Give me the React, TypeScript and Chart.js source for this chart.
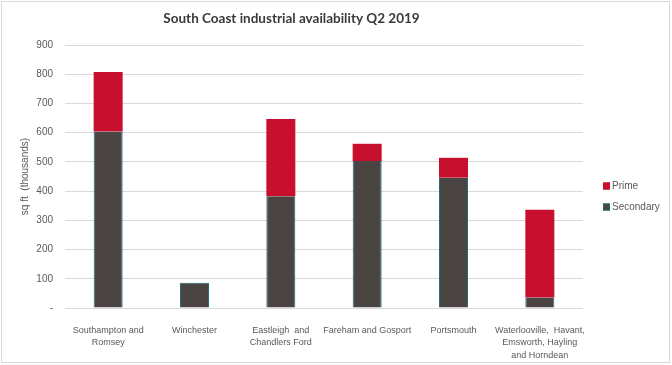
import React, { useEffect, useRef } from "react";
import { Chart, registerables } from "chart.js";

Chart.register(...registerables);

const categories: (string | string[])[] = [
  ["Southampton and", "Romsey"],
  ["Winchester"],
  ["Eastleigh  and", "Chandlers Ford"],
  ["Fareham and Gosport"],
  ["Portsmouth"],
  ["Waterlooville,  Havant,", "Emsworth, Hayling", "and Horndean"],
];
const secondaryValues = [604, 86, 382, 503, 446, 36];
const primeValues = [204, 0, 265, 59, 68, 300];
const yTicks = [0, 100, 200, 300, 400, 500, 600, 700, 800, 900];

const RED = "#C8102E";
const DARK = "#4A4542";
const TEAL = "#1F6E78";
const TEXT = "#595959";
const FONT = "'Liberation Sans', Arial, sans-serif";

const bgPlugin = {
  id: "bgBorder",
  beforeDraw(chart: any) {
    const ctx = chart.ctx;
    ctx.save();
    ctx.fillStyle = "#ffffff";
    ctx.fillRect(0, 0, chart.width, chart.height);
    ctx.restore();
  },
  afterDraw(chart: any) {
    const ctx = chart.ctx;
    ctx.save();
    ctx.strokeStyle = "#d9d9d9";
    ctx.lineWidth = 1;
    ctx.strokeRect(1.5, 1.5, chart.width - 4, chart.height - 4);
    ctx.restore();
  },
};

const legendPlugin = {
  id: "customLegend",
  afterDraw(chart: any) {
    const ctx = chart.ctx;
    const area = chart.chartArea;
    const x = area.right + 20;
    const cy = (area.top + area.bottom) / 2 + 20;
    const items = [
      { label: "Prime", fill: RED, stroke: RED, y: cy - 10.5 },
      { label: "Secondary", fill: DARK, stroke: TEAL, y: cy + 10.5 },
    ];
    ctx.save();
    ctx.font = `10px ${FONT}`;
    ctx.textBaseline = "middle";
    ctx.textAlign = "left";
    items.forEach((it) => {
      ctx.fillStyle = it.fill;
      ctx.fillRect(x, it.y - 3.5, 7, 7);
      ctx.strokeStyle = it.stroke;
      ctx.lineWidth = 1;
      ctx.strokeRect(x + 0.5, it.y - 3, 6, 6);
      ctx.fillStyle = TEXT;
      ctx.fillText(it.label, x + 9, it.y);
    });
    ctx.restore();
  },
};

export default function App() {
  const ref = useRef<HTMLCanvasElement | null>(null);

  useEffect(() => {
    document.body.style.margin = "0";
    if (!ref.current) return;
    const chart = new Chart(ref.current, {
      type: "bar",
      data: {
        labels: categories,
        datasets: [
          {
            label: "Secondary",
            data: secondaryValues,
            backgroundColor: DARK,
            borderColor: TEAL,
            borderWidth: (c: any) =>
              primeValues[c.dataIndex] > 0
                ? { top: 0, left: 1, right: 1, bottom: 0 }
                : { top: 1, left: 1, right: 1, bottom: 0 },
            borderSkipped: false,
            barPercentage: 0.336,
            categoryPercentage: 1,
          },
          {
            label: "Prime",
            data: primeValues,
            backgroundColor: RED,
            borderWidth: 0,
            barPercentage: 0.336,
            categoryPercentage: 1,
          },
        ],
      },
      options: {
        animation: false,
        responsive: false,
        layout: { padding: { left: 0, right: 89, top: 0, bottom: 7 } },
        plugins: {
          legend: { display: false },
          tooltip: { enabled: false },
          title: {
            display: true,
            text: "South Coast industrial availability Q2 2019",
            color: "#3a3a3a",
            font: { family: "Lato, 'Liberation Sans', sans-serif", size: 13.5, weight: "bold" },
            padding: { top: 10.5, bottom: 18.3 },
          },
        },
        scales: {
          x: {
            stacked: true,
            grid: { display: false },
            border: { display: false },
            ticks: {
              color: TEXT,
              font: { family: FONT, size: 9, lineHeight: 1.4 },
              padding: 8,
              maxRotation: 0,
              autoSkip: false,
            },
            afterFit: (s: any) => {
              s.height = 50;
            },
          },
          y: {
            stacked: true,
            min: 0,
            max: 900,
            afterBuildTicks: (s: any) => {
              s.ticks = yTicks.map((v) => ({ value: v }));
            },
            grid: { color: "#d9d9d9", drawTicks: false, lineWidth: 1 },
            border: { display: false },
            ticks: {
              color: TEXT,
              font: { family: FONT, size: 10 },
              padding: 12,
              callback: (v: any) => (Number(v) === 0 ? "-" : String(v)),
            },
            title: {
              display: true,
              text: "sq ft  (thousands)",
              color: TEXT,
              font: { family: FONT, size: 10, lineHeight: 1.2 },
              padding: { top: 19, bottom: 0 },
            },
            afterFit: (s: any) => {
              s.width = 65;
            },
          },
        },
      },
      plugins: [bgPlugin, legendPlugin],
    });
    return () => chart.destroy();
  }, []);

  return <canvas ref={ref} width={672} height={365} style={{ display: "block" }} />;
}
